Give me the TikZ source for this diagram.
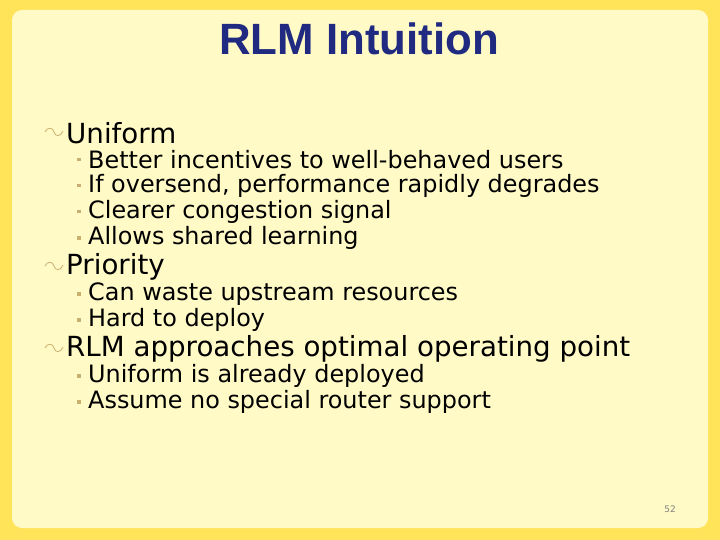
\documentclass[tikz,border=0pt]{standalone}
\usepackage{fontspec}
\setmainfont{DejaVu Sans}
\newfontfamily\titlefont{Liberation Sans}
\begin{document}
\begin{tikzpicture}[x=1pt,y=-1pt,
  lone/.style={anchor=west,inner sep=0pt,font=\fontsize{27.7}{29}\selectfont},
  ltwo/.style={anchor=west,inner sep=0pt,font=\fontsize{23.9}{25}\selectfont}]
\definecolor{outer}{HTML}{FFE45A}
\definecolor{inner}{HTML}{FFFAC6}
\definecolor{navy}{HTML}{1F2A80}
\definecolor{tan}{HTML}{C8B070}
\useasboundingbox (0,0) rectangle (720,540);
\fill[outer] (0,0) rectangle (720,540);
\fill[inner,rounded corners=10pt] (12,10) rectangle (708,528);
\node[inner sep=0pt,font=\titlefont\bfseries\fontsize{43.8}{46}\selectfont,text=navy] (title) at (359,39) {RLM Intuition};
\foreach \n/\y/\t in {a/133/Uniform,b/267/Priority,c/349/RLM approaches optimal operating point}{
  \node[lone] (\n) at (66,\y) {\t};
  \draw[tan,line width=0.8pt] (45,\y-1) .. controls (47,\y-6) and (53,\y-6) .. (54,\y-1) .. controls (55,\y+4) and (61,\y+4) .. (63,\y-2);
}
\foreach \n/\y/\t in {a1/160/Better incentives to well-behaved users,a2/186/{If oversend, performance rapidly degrades},a3/212/Clearer congestion signal,a4/238/Allows shared learning,b1/294/Can waste upstream resources,b2/320/Hard to deploy,c1/376/Uniform is already deployed,c2/402/Assume no special router support}{
  \node[ltwo] (\n) at (88,\y) {\t};
  \fill[tan] (77,\y-2) rectangle (80.5,\y+1.5);
}
\node[inner sep=0pt,font=\fontsize{9}{10}\selectfont,text=gray] (pg) at (670,509) {52};
\end{tikzpicture}
\end{document}
